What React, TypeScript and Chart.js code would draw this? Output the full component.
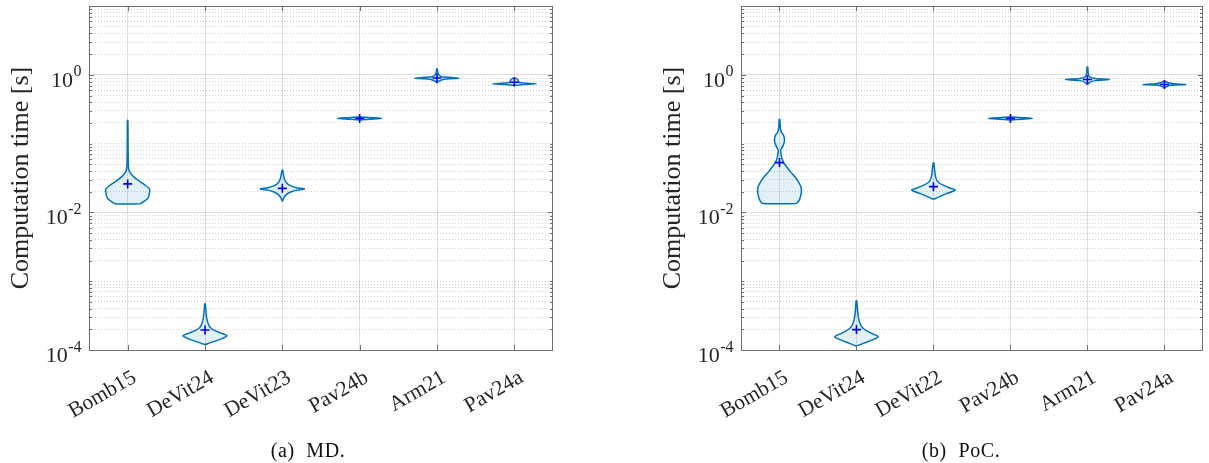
import React, { useEffect, useRef } from "react";
import { Chart, registerables } from "chart.js";

Chart.register(...registerables);

// ---------- data ----------
const categoriesMD = ["Bomb15", "DeVit24", "DeVit23", "Pav24b", "Arm21", "Pav24a"];
const categoriesPoC = ["Bomb15", "DeVit24", "DeVit22", "Pav24b", "Arm21", "Pav24a"];

// mean values [s]
const meansMD = [0.026, 1.95e-4, 0.0224, 0.233, 0.9, 0.78];
const meansPoC = [0.053, 1.98e-4, 0.0237, 0.233, 0.857, 0.725];

// violin profiles: [time in s, half width in category units], bottom to top
const bomb15MD = [
  [0.01334, 0.162], [0.0144, 0.207], [0.0159, 0.259], [0.02, 0.285], [0.0224, 0.278],
  [0.0251, 0.22], [0.0279, 0.162], [0.0312, 0.103], [0.0348, 0.058], [0.0389, 0.026],
  [0.0434, 0.013], [0.0542, 0.008], [0.105, 0.005], [0.218, 0.003],
];
const deVit24MD = [
  [1.21e-4, 0.013], [1.3e-4, 0.09], [1.39e-4, 0.168], [1.49e-4, 0.233], [1.61e-4, 0.285],
  [1.76e-4, 0.207], [1.94e-4, 0.116], [2.14e-4, 0.065], [2.45e-4, 0.039], [2.88e-4, 0.023],
  [3.55e-4, 0.013], [4.68e-4, 0.004],
];
const deVit23MD = [
  [0.0147, 0.004], [0.0164, 0.02], [0.0182, 0.052], [0.02, 0.116], [0.0211, 0.194],
  [0.0219, 0.285], [0.0229, 0.181], [0.0245, 0.103], [0.027, 0.052], [0.0308, 0.026],
  [0.0364, 0.013], [0.0411, 0.004],
];
const pav24bMD = [
  [0.2213, 0.004], [0.2265, 0.15], [0.2328, 0.285], [0.239, 0.15], [0.2445, 0.004],
];
const arm21MD = [
  [0.767, 0.004], [0.806, 0.02], [0.845, 0.06], [0.875, 0.16], [0.897, 0.285],
  [0.92, 0.16], [0.95, 0.05], [1.016, 0.02], [1.104, 0.01], [1.22, 0.004],
];
const pav24aMD = [
  [0.706, 0.004], [0.723, 0.12], [0.742, 0.285], [0.76, 0.12], [0.78, 0.06],
  [0.82, 0.05], [0.861, 0.04], [0.891, 0.02], [0.906, 0.004],
];

const bomb15PoC = [
  [0.01346, 0.216], [0.0144, 0.246], [0.0159, 0.265], [0.02, 0.285], [0.0237, 0.278],
  [0.0279, 0.246], [0.033, 0.2], [0.0389, 0.142], [0.0444, 0.103], [0.0507, 0.065],
  [0.0579, 0.039], [0.0684, 0.022], [0.0805, 0.017], [0.0891, 0.036], [0.1016, 0.058],
  [0.116, 0.065], [0.1325, 0.052], [0.146, 0.026], [0.162, 0.013], [0.191, 0.008],
  [0.225, 0.004],
];
const deVit24PoC = [
  [1.156e-4, 0.013], [1.26e-4, 0.1], [1.39e-4, 0.2], [1.556e-4, 0.285], [1.7e-4, 0.22],
  [1.88e-4, 0.14], [2.07e-4, 0.085], [2.37e-4, 0.05], [2.79e-4, 0.03], [3.41e-4, 0.018],
  [4.3e-4, 0.01], [5.2e-4, 0.004],
];
const deVit22PoC = [
  [0.0157, 0.013], [0.017, 0.08], [0.0188, 0.17], [0.02, 0.24], [0.0212, 0.285],
  [0.0225, 0.22], [0.0245, 0.14], [0.027, 0.07], [0.0299, 0.04], [0.034, 0.025],
  [0.0416, 0.015], [0.0524, 0.004],
];
const pav24bPoC = [
  [0.2213, 0.004], [0.2265, 0.15], [0.2328, 0.285], [0.239, 0.15], [0.2445, 0.004],
];
const arm21PoC = [
  [0.725, 0.004], [0.78, 0.03], [0.825, 0.1], [0.857, 0.285], [0.885, 0.1],
  [0.936, 0.03], [1.034, 0.012], [1.18, 0.007], [1.3, 0.004],
];
const pav24aPoC = [
  [0.65, 0.004], [0.695, 0.05], [0.711, 0.12], [0.725, 0.285], [0.742, 0.12],
  [0.767, 0.05], [0.806, 0.004],
];

const profilesMD = [bomb15MD, deVit24MD, deVit23MD, pav24bMD, arm21MD, pav24aMD];
const profilesPoC = [bomb15PoC, deVit24PoC, deVit22PoC, pav24bPoC, arm21PoC, pav24aPoC];

const yMin = 1e-4;
const yMax = 10;
const yTickExponents = [-4, -2, 0]; // labelled ticks 10^-4, 10^-2, 10^0
const yLabel = "Computation time [s]";
const captionMD = "(a) MD.";
const captionPoC = "(b) PoC.";

// ---------- styles ----------
const VIOLIN_EDGE = "#0072BD";
const VIOLIN_FILL = "rgba(0,114,189,0.11)";
const MEAN_COLOR = "#0000FF";
const AXIS_COLOR = "#6f6f6f";
const TEXT_COLOR = "#262626";
const FONT = "'Liberation Serif', 'Times New Roman', serif";

function logTicks(): number[] {
  const out: number[] = [];
  for (let k = -4; k <= 0; k++) {
    for (let m = 1; m <= 9; m++) out.push(Number((m * Math.pow(10, k)).toPrecision(3)));
  }
  out.push(10);
  return out;
}

function isMajor(v: number): boolean {
  const e = Math.log10(v);
  const r = Math.round(e);
  return Math.abs(e - r) < 1e-6 && yTickExponents.indexOf(r) >= 0;
}

function buildViolin(center: number, profile: number[][]) {
  const right = profile.map(([v, w]) => ({ x: center + w, y: v }));
  const left = profile
    .slice()
    .reverse()
    .map(([v, w]) => ({ x: center - w, y: v }));
  return [...right, ...left, right[0]];
}

const framePlugin = {
  id: "frame",
  afterDraw(chart: any) {
    const { ctx, chartArea } = chart;
    const { left, right, top, bottom } = chartArea;
    const x = chart.scales.x;
    const y = chart.scales.y;
    ctx.save();
    ctx.strokeStyle = AXIS_COLOR;
    ctx.lineWidth = 1;
    ctx.beginPath();
    y.ticks.forEach((t: any) => {
      const py = Math.round(y.getPixelForValue(t.value)) + 0.5;
      const len = isMajor(t.value) ? 5 : 3;
      ctx.moveTo(left, py);
      ctx.lineTo(left + len, py);
      ctx.moveTo(right, py);
      ctx.lineTo(right - len, py);
    });
    x.ticks.forEach((t: any) => {
      const px = Math.round(x.getPixelForValue(t.value)) + 0.5;
      ctx.moveTo(px, bottom);
      ctx.lineTo(px, bottom - 5);
      ctx.moveTo(px, top);
      ctx.lineTo(px, top + 5);
    });
    ctx.stroke();
    ctx.strokeRect(
      Math.round(left) + 0.5,
      Math.round(top) + 0.5,
      Math.round(right - left) - 1,
      Math.round(bottom - top)
    );

    // y tick labels: "10" with a raised exponent, placed by the y scale
    ctx.fillStyle = TEXT_COLOR;
    ctx.textAlign = "right";
    ctx.textBaseline = "alphabetic";
    const xr = left - 7.5;
    yTickExponents.forEach((e) => {
      const py = y.getPixelForValue(Math.pow(10, e));
      const expStr = String(e);
      ctx.font = `16px ${FONT}`;
      ctx.fillText(expStr, xr, py + 1.5);
      const w = ctx.measureText(expStr).width;
      ctx.font = `22px ${FONT}`;
      ctx.fillText("10", xr - w - 0.5, py + 12);
    });
    ctx.restore();
  },
};

type Props = {
  cats: string[];
  means: number[];
  profiles: number[][][];
  width: number;
  padRight: number;
};

function ViolinChart({ cats, means, profiles, width, padRight }: Props) {
  const ref = useRef<HTMLCanvasElement>(null);

  useEffect(() => {
    const violinSets = profiles.map((p, i) => ({
      label: cats[i],
      data: buildViolin(i + 1, p),
      showLine: true,
      fill: "shape",
      backgroundColor: VIOLIN_FILL,
      borderColor: VIOLIN_EDGE,
      borderWidth: 1.5,
      pointRadius: 0,
      pointHoverRadius: 0,
      tension: 0.25,
      order: 2,
    }));
    const meanSet = {
      label: "mean",
      data: means.map((m, i) => ({ x: i + 1, y: m })),
      showLine: false,
      pointStyle: "cross",
      pointRadius: 4.5,
      pointHoverRadius: 4.5,
      borderColor: MEAN_COLOR,
      pointBorderColor: MEAN_COLOR,
      pointBorderWidth: 1.6,
      backgroundColor: MEAN_COLOR,
      order: 0,
    };

    const chart = new Chart(ref.current as HTMLCanvasElement, {
      type: "scatter",
      data: { datasets: [meanSet, ...violinSets] as any },
      options: {
        animation: false,
        responsive: false,
        events: [],
        layout: { padding: { left: 0, top: 3, right: padRight, bottom: 0 } },
        plugins: {
          legend: { display: false },
          tooltip: { enabled: false },
        },
        scales: {
          x: {
            type: "linear",
            min: 0.5,
            max: 6.5,
            afterBuildTicks: (scale: any) => {
              scale.ticks = cats.map((_, i) => ({ value: i + 1 }));
            },
            afterFit: (scale: any) => {
              scale.height = 113;
              scale.paddingLeft = 0;
              scale.paddingRight = 0;
            },
            grid: {
              color: "rgba(38,38,38,0.15)",
              lineWidth: 1,
              drawTicks: false,
            },
            border: { display: false },
            ticks: {
              autoSkip: false,
              minRotation: 30,
              maxRotation: 30,
              padding: 15,
              labelOffset: 7,
              color: TEXT_COLOR,
              font: { family: FONT, size: 21.5 },
              callback: (v: any) => {
                const i = Math.round(Number(v)) - 1;
                return cats[i] ?? "";
              },
            },
          },
          y: {
            type: "logarithmic",
            min: yMin,
            max: yMax,
            afterBuildTicks: (scale: any) => {
              scale.ticks = logTicks().map((v) => ({ value: v }));
            },
            afterFit: (scale: any) => {
              scale.width = 89;
              scale.paddingTop = 0;
              scale.paddingBottom = 0;
            },
            grid: {
              color: (c: any) =>
                c.tick && isMajor(c.tick.value) ? "rgba(38,38,38,0.15)" : "rgba(38,38,38,0.21)",
              lineWidth: 1,
              drawTicks: false,
            },
            border: {
              display: false,
              dash: (c: any) => (c.tick && !isMajor(c.tick.value) ? [1, 2] : []),
            } as any,
            ticks: {
              display: false,
              autoSkip: false,
            },
            title: {
              display: true,
              text: yLabel,
              color: TEXT_COLOR,
              font: { family: FONT, size: 26 },
              padding: { top: 6, bottom: 0 },
            },
          },
        },
      },
      plugins: [framePlugin],
    });
    return () => chart.destroy();
  }, []);

  return (
    <canvas
      ref={ref}
      width={width}
      height={463}
      style={{ display: "block", width: width, height: 463 }}
    />
  );
}

const captionStyle: React.CSSProperties = {
  position: "absolute",
  top: 439,
  width: 240,
  textAlign: "center",
  fontFamily: FONT,
  fontSize: 20,
  letterSpacing: "0.6px",
  wordSpacing: "6px",
  lineHeight: "22px",
  color: "#111",
  whiteSpace: "nowrap",
};

export default function App() {
  return (
    <div
      style={{
        position: "absolute",
        left: 0,
        top: 0,
        width: 1209,
        height: 463,
        overflow: "hidden",
        background: "#ffffff",
      }}
    >
      <div style={{ position: "absolute", left: 0, top: 0 }}>
        <ViolinChart cats={categoriesMD} means={meansMD} profiles={profilesMD} width={604} padRight={51} />
      </div>
      <div style={{ position: "absolute", left: 652, top: 0 }}>
        <ViolinChart cats={categoriesPoC} means={meansPoC} profiles={profilesPoC} width={557} padRight={5} />
      </div>
      <div style={{ ...captionStyle, left: 188 }}>{captionMD}</div>
      <div style={{ ...captionStyle, left: 841 }}>{captionPoC}</div>
    </div>
  );
}
